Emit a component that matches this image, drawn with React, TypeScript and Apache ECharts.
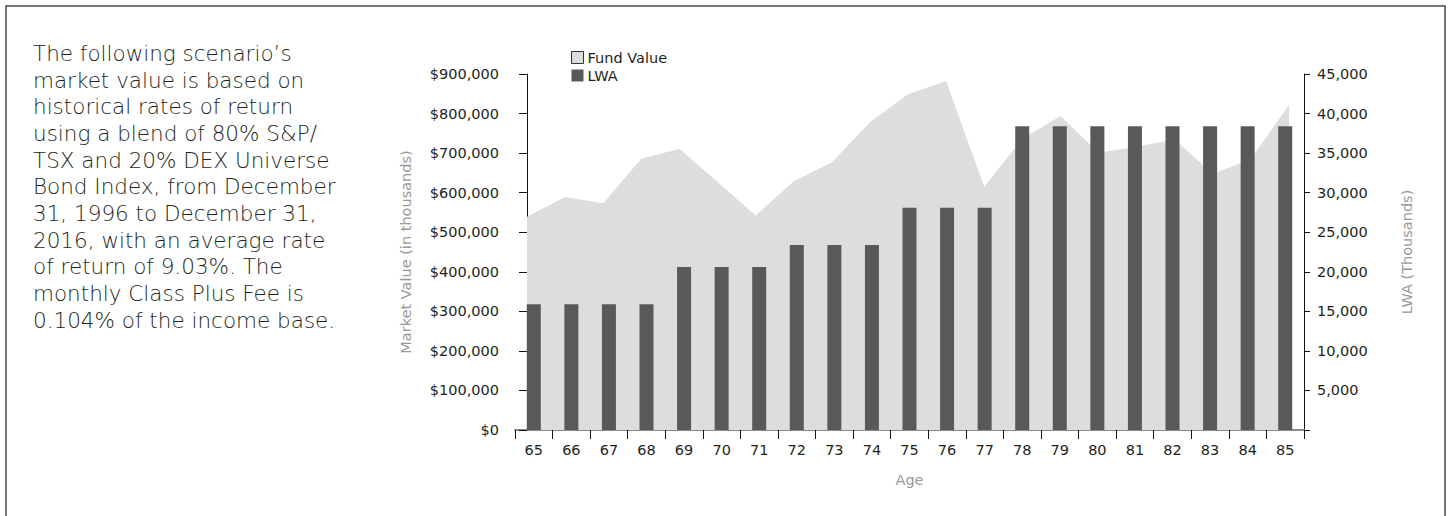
import React, { useEffect, useRef } from "react";
import * as echarts from "echarts";

const ages = ["65","66","67","68","69","70","71","72","73","74","75","76","77","78","79","80","81","82","83","84","85"];
const fundValue = [539000, 589000, 573000, 686000, 711000, 627000, 542000, 629000, 676000, 778000, 849000, 882000, 615000, 736000, 794000, 701000, 716000, 735000, 647000, 685000, 822000];
const lwa = [15900, 15900, 15900, 15900, 20600, 20600, 20600, 23400, 23400, 23400, 28100, 28100, 28100, 38400, 38400, 38400, 38400, 38400, 38400, 38400, 38400];
const paragraphLines = [
  "The following scenario\u2019s",
  "market value is based on",
  "historical rates of return",
  "using a blend of 80% S&P/",
  "TSX and 20% DEX Universe",
  "Bond Index, from December",
  "31, 1996 to December 31,",
  "2016, with an average rate",
  "of return of 9.03%. The",
  "monthly Class Plus Fee is",
  "0.104% of the income base.",
];

const FONT = "'DejaVu Sans', 'Open Sans', sans-serif";
const DARK = "#231f20";

export default function App() {
  const ref = useRef<HTMLDivElement>(null);
  useEffect(() => {
    if (!ref.current) return;
    const chart = echarts.init(ref.current, undefined, { renderer: "svg" });
    chart.setOption({
      animation: false,
      backgroundColor: "#ffffff",
      textStyle: { fontFamily: FONT },
      graphic: [
        {
          type: "rect",
          shape: { x: 6, y: 6, width: 1439, height: 530 },
          style: { fill: "none", stroke: "#4a4a4a", lineWidth: 1.5 },
          silent: true,
        },
        {
          type: "text",
          left: 33,
          top: 40,
          style: {
            text: paragraphLines.join("\n"),
            font: `200 21.5px ${FONT}`,
            lineHeight: 26.67,
            fill: DARK,
          },
        },
      ],
      legend: {
        orient: "vertical",
        left: 566,
        top: 45,
        itemWidth: 12,
        itemHeight: 12,
        itemGap: 3,
        textStyle: { fontSize: 14.5, color: DARK, fontFamily: FONT, padding: [0, 0, 0, -1] },
        data: [
          { name: "Fund Value", icon: "rect", itemStyle: { color: "#dcdddf", borderColor: "#333333", borderWidth: 1 } },
          { name: "LWA", icon: "rect", itemStyle: { color: "#58595b" } },
        ],
      },
      grid: { left: 515, top: 74, width: 789, height: 356, containLabel: false },
      xAxis: [
        {
          type: "category",
          data: ages,
          boundaryGap: true,
          name: "Age",
          nameLocation: "middle",
          nameGap: 42,
          nameTextStyle: { color: "#999999", fontSize: 14.5 },
          axisLine: { lineStyle: { color: "#8a8a8a", width: 2 } },
          axisTick: { show: true, length: 9, lineStyle: { color: "#111111", width: 1 } },
          axisLabel: { color: DARK, fontSize: 14.5, margin: 12 },
          splitLine: { show: false },
        },
        {
          type: "value",
          min: -0.315,
          max: 20.394,
          show: false,
          position: "bottom",
        },
      ],
      yAxis: [
        {
          type: "value",
          min: 0,
          max: 900000,
          interval: 100000,
          position: "left",
          name: "Market Value (in thousands)",
          nameLocation: "middle",
          nameGap: 102,
          nameTextStyle: { color: "#999999", fontSize: 14.5 },
          axisLine: { show: true, lineStyle: { color: "#111111", width: 1 } },
          axisTick: { show: true, length: 8, lineStyle: { color: "#111111" } },
          axisLabel: {
            color: DARK,
            fontSize: 14.5,
            margin: 16,
            formatter: (v: number) => "$" + v.toLocaleString("en-US"),
          },
          splitLine: { show: false },
        },
        {
          type: "value",
          min: 0,
          max: 45000,
          interval: 5000,
          position: "right",
          name: "LWA (Thousands)",
          nameLocation: "middle",
          nameGap: 95,
          nameTextStyle: { color: "#999999", fontSize: 14.5 },
          axisLine: { show: true, lineStyle: { color: "#111111", width: 1 } },
          axisTick: { show: true, length: 6, lineStyle: { color: "#111111" } },
          axisLabel: {
            color: DARK,
            fontSize: 14.5,
            margin: 13,
            formatter: (v: number) => (v === 0 ? "" : v.toLocaleString("en-US")),
          },
          splitLine: { show: false },
        },
      ],
      series: [
        {
          name: "Fund Value",
          type: "line",
          xAxisIndex: 1,
          yAxisIndex: 0,
          data: fundValue.map((v, i) => [i, v]),
          showSymbol: false,
          symbol: "none",
          lineStyle: { width: 0, color: "#dcdddf" },
          itemStyle: { color: "#dcdddf" },
          areaStyle: { color: "#dcdddf", opacity: 1 },
          z: 1,
        },
        {
          name: "LWA",
          type: "bar",
          xAxisIndex: 0,
          yAxisIndex: 1,
          data: lwa,
          barWidth: 14,
          itemStyle: { color: "#58595b" },
          z: 2,
        },
      ],
    });
    return () => chart.dispose();
  }, []);
  return (
    <div
      ref={ref}
      style={{ position: "absolute", left: 0, top: 0, width: 1451, height: 516 }}
    />
  );
}
